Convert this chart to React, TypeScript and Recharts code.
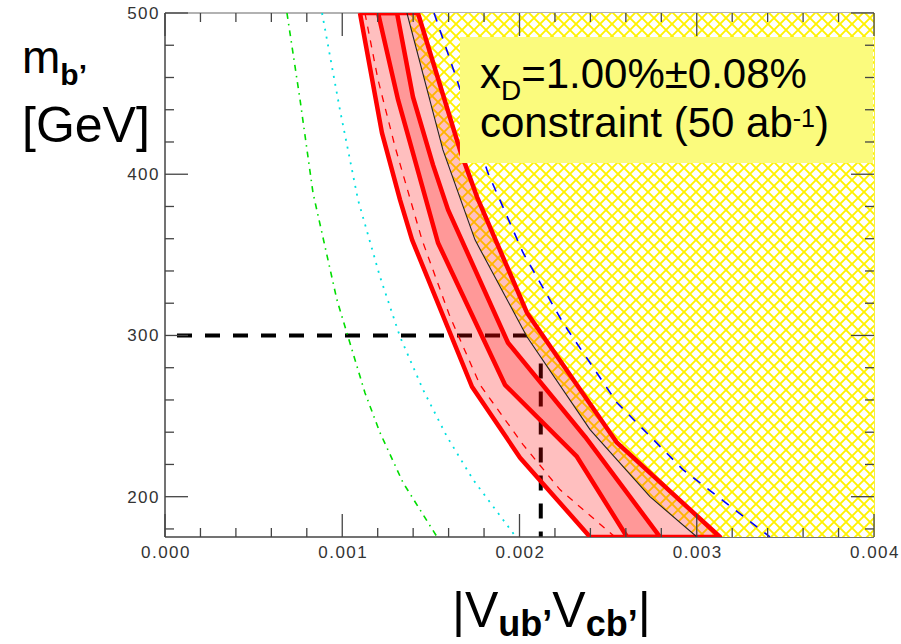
import React from 'react';
import { ComposedChart, Scatter, XAxis, YAxis, ReferenceLine } from 'recharts';

type Pair = [number, number]; // [|Vub'Vcb'|, m_b' in GeV]

// Allowed region from the x_D measurement: outer (light) and inner (dark) bands
const outerLeftEdge: Pair[] = [
  [0.0011, 500], [0.001224, 425.6], [0.001326, 384.1], [0.001394, 359.3],
  [0.001732, 268.2], [0.002003, 224.2], [0.002398, 175],
];
const innerLeftEdge: Pair[] = [
  [0.001202, 500], [0.001315, 446.1], [0.001394, 415.1], [0.00154, 357.5],
  [0.001918, 269.4], [0.002324, 224.8], [0.002607, 175],
];
const innerRightEdge: Pair[] = [
  [0.001309, 500], [0.001399, 447.9], [0.001512, 405.8], [0.001597, 377.9],
  [0.001935, 295.5], [0.00237, 237.2], [0.002793, 175],
];
const outerRightEdge: Pair[] = [
  [0.001427, 500], [0.001664, 415.1], [0.00176, 386.0], [0.002042, 314.1],
  [0.00255, 233.5], [0.003131, 175],
];

// Excluded (hatched) region starts at this boundary
const excludedBoundary: Pair[] = [
  [0.001365, 500], [0.001568, 415.1], [0.001749, 359.3], [0.002042, 299.2],
  [0.002398, 241.6], [0.002736, 200], [0.003001, 175],
];

// Contours
const centralContour: Pair[] = [
  [0.001128, 500], [0.001202, 458.5], [0.001298, 417.0], [0.00145, 359.3],
  [0.001608, 311.6], [0.001777, 269.4], [0.00202, 232.3], [0.002228, 204.4],
  [0.002539, 175],
];
const greenContour: Pair[] = [
  [0.000688, 500], [0.000762, 446.1], [0.000835, 388.4], [0.00097, 322.1],
  [0.001128, 264.5], [0.001213, 239.7], [0.001343, 208.7], [0.001535, 175],
];
const cyanContour: Pair[] = [
  [0.000886, 500], [0.000987, 439.9], [0.001089, 384.1], [0.001213, 336.4],
  [0.001326, 299.2], [0.001456, 266.3], [0.001591, 237.2], [0.001738, 210.6],
  [0.00198, 175],
];
const blueContour: Pair[] = [
  [0.001518, 500], [0.001653, 456.6], [0.001822, 400.8], [0.00202, 351.3],
  [0.002245, 307.9], [0.00255, 258.3], [0.002922, 216.8], [0.003413, 175],
];

// Benchmark point
const benchmarkMass = 300;
const benchmarkCoupling = 0.00212;

// Anchor (top-left corner) of the constraint note
const noteAnchor = [{ x: 0.001664, y: 485.1 }];

// Axes
const X_DOMAIN: Pair = [0, 0.004];
const Y_DOMAIN: Pair = [175, 500];
const xMajorTicks = [0, 0.001, 0.002, 0.003, 0.004];
const xMinorTicks = [
  0.0002, 0.0004, 0.0006, 0.0008, 0.0012, 0.0014, 0.0016, 0.0018,
  0.0022, 0.0024, 0.0026, 0.0028, 0.0032, 0.0034, 0.0036, 0.0038,
];
const yMajorTicks = [200, 300, 400, 500];
const yMinorTicks = [180, 220, 240, 260, 280, 320, 340, 360, 380, 420, 440, 460, 480];
const xTicks = [...xMajorTicks, ...xMinorTicks].sort((a, b) => a - b);
const yTicks = [...yMajorTicks, ...yMinorTicks].sort((a, b) => a - b);

const toPoints = (rows: Pair[]) => rows.map(([x, y]) => ({ x, y }));
const closedBand = (left: Pair[], right: Pair[]) =>
  toPoints([...left, ...[...right].reverse(), left[0]]);

const outerBand = closedBand(outerLeftEdge, outerRightEdge);
const innerBand = closedBand(innerLeftEdge, innerRightEdge);
const hatchRegion = toPoints([
  ...excludedBoundary,
  [X_DOMAIN[1], Y_DOMAIN[0]],
  [X_DOMAIN[1], Y_DOMAIN[1]],
  excludedBoundary[0],
]);

const SANS = '"Liberation Sans", Arial, Helvetica, sans-serif';
const AXIS = '#444';
const MAJOR = 23;
const MINOR = 9;
const tickText = { fontFamily: SANS, fontSize: 17, letterSpacing: 1.5, fill: '#333' };

const noDot = () => null;

function BottomTick(props: any) {
  const { x, y, payload } = props;
  const major = xMajorTicks.includes(payload.value);
  return (
    <g>
      <line x1={x} x2={x} y1={y} y2={y - (major ? MAJOR : MINOR)} stroke={AXIS} strokeWidth={1.3} />
      {major && (
        <text x={x + 1} y={y + 21} textAnchor="middle" {...tickText}>
          {payload.value.toFixed(3)}
        </text>
      )}
    </g>
  );
}

function TopTick(props: any) {
  const { x, y, payload } = props;
  const major = xMajorTicks.includes(payload.value);
  return <line x1={x} x2={x} y1={y} y2={y + (major ? MAJOR : MINOR)} stroke={AXIS} strokeWidth={1.3} />;
}

function LeftTick(props: any) {
  const { x, y, payload } = props;
  const major = yMajorTicks.includes(payload.value);
  return (
    <g>
      <line x1={x} x2={x + (major ? MAJOR : MINOR)} y1={y} y2={y} stroke={AXIS} strokeWidth={1.3} />
      {major && (
        <text x={x - 5} y={y + 6} textAnchor="end" {...tickText}>
          {payload.value}
        </text>
      )}
    </g>
  );
}

function RightTick(props: any) {
  const { x, y, payload } = props;
  const major = yMajorTicks.includes(payload.value);
  return <line x1={x} x2={x - (major ? MAJOR : MINOR)} y1={y} y2={y} stroke={AXIS} strokeWidth={1.3} />;
}

const yTitle = () => (
  <text fontFamily={SANS} fill="#000">
    <tspan x={22} y={73} fontSize={46}>m</tspan>
    <tspan dy={12} fontSize={30} fontWeight="bold">b’</tspan>
    <tspan x={22} y={142} fontSize={50}>[GeV]</tspan>
  </text>
);

const xTitle = () => (
  <text x={452} y={627} fontFamily={SANS} fontSize={50} fill="#000">
    |V
    <tspan dy={9} fontSize={36} fontWeight="bold">ub’</tspan>
    <tspan dy={-9}>V</tspan>
    <tspan dy={9} fontSize={36} fontWeight="bold">cb’</tspan>
    <tspan dy={-9}>|</tspan>
  </text>
);

// Yellow note box, drawn from its top-left anchor point
function ConstraintNote(props: any) {
  const { cx, cy } = props;
  return (
    <g fontFamily={SANS} fill="#000">
      <rect x={cx} y={cy} width={413} height={126} fill="#fbfb7d" />
      <text x={cx + 20} y={cy + 51} fontSize={42}>
        x<tspan dy={12} fontSize={28}>D</tspan>
        <tspan dy={-12}>=1.00%±0.08%</tspan>
      </text>
      <text x={cx + 20} y={cy + 100} fontSize={42}>
        constraint (50 ab<tspan dy={-10} fontSize={25}>-1</tspan>
        <tspan dy={10}>)</tspan>
      </text>
    </g>
  );
}

export default function App() {
  const axisCommon = {
    type: 'number' as const,
    allowDataOverflow: true,
    interval: 0 as const,
    tickSize: 0,
    tickMargin: 0,
    tickLine: false,
  };
  return (
    <div style={{ position: 'absolute', left: 0, top: 0 }}>
      <ComposedChart
        width={901}
        height={644}
        margin={{ top: 12, right: 26, bottom: 106, left: 164 }}
        style={{ background: '#fff' }}
      >
        <defs>
          <pattern id="xhatch" patternUnits="userSpaceOnUse" width={12} height={12}>
            <rect width={12} height={12} fill="#fff" />
            <path d="M0,0 L12,12 M12,0 L0,12" stroke="#fff200" strokeWidth={1.9} />
          </pattern>
        </defs>

        <XAxis
          {...axisCommon}
          xAxisId="x"
          dataKey="x"
          orientation="bottom"
          domain={X_DOMAIN}
          ticks={xTicks}
          height={1}
          axisLine={{ stroke: AXIS, strokeWidth: 1.5 }}
          tick={<BottomTick />}
          label={xTitle}
        />
        <XAxis
          {...axisCommon}
          xAxisId="xt"
          dataKey="x"
          orientation="top"
          domain={X_DOMAIN}
          ticks={xTicks}
          height={1}
          axisLine={{ stroke: '#666', strokeWidth: 1.2 }}
          tick={<TopTick />}
        />
        <YAxis
          {...axisCommon}
          yAxisId="y"
          dataKey="y"
          orientation="left"
          domain={Y_DOMAIN}
          ticks={yTicks}
          width={1}
          axisLine={{ stroke: AXIS, strokeWidth: 1.5 }}
          tick={<LeftTick />}
          label={yTitle}
        />
        <YAxis
          {...axisCommon}
          yAxisId="yr"
          dataKey="y"
          orientation="right"
          domain={Y_DOMAIN}
          ticks={yTicks}
          width={1}
          axisLine={{ stroke: '#f2e800', strokeWidth: 1.5 }}
          tick={<RightTick />}
        />

        {/* excluded region */}
        <Scatter
          xAxisId="x" yAxisId="y" data={hatchRegion} shape={noDot}
          line={{ stroke: 'none', fill: 'url(#xhatch)' }}
          isAnimationActive={false}
        />

        <Scatter
          xAxisId="x" yAxisId="y" data={toPoints(greenContour)} shape={noDot}
          line={{ stroke: '#00dd00', strokeWidth: 1.6, strokeDasharray: '6 5 1.5 5' }}
          isAnimationActive={false}
        />
        <Scatter
          xAxisId="x" yAxisId="y" data={toPoints(cyanContour)} shape={noDot}
          line={{ stroke: '#00e0e0', strokeWidth: 1.8, strokeDasharray: '2 6' }}
          isAnimationActive={false}
        />

        {/* allowed bands */}
        <Scatter
          xAxisId="x" yAxisId="y" data={outerBand} shape={noDot}
          line={{ stroke: '#ff0000', strokeWidth: 4.5, fill: 'rgba(255,0,0,0.25)', strokeLinejoin: 'round' }}
          isAnimationActive={false}
        />
        <Scatter
          xAxisId="x" yAxisId="y" data={innerBand} shape={noDot}
          line={{ stroke: '#ff0000', strokeWidth: 4.5, fill: 'rgba(255,0,0,0.2)', strokeLinejoin: 'round' }}
          isAnimationActive={false}
        />

        <Scatter
          xAxisId="x" yAxisId="y" data={toPoints(centralContour)} shape={noDot}
          line={{ stroke: '#ff0000', strokeWidth: 1.3, strokeDasharray: '7 7' }}
          isAnimationActive={false}
        />
        <Scatter
          xAxisId="x" yAxisId="y" data={toPoints(excludedBoundary)} shape={noDot}
          line={{ stroke: '#222', strokeWidth: 1.1 }}
          isAnimationActive={false}
        />
        <Scatter
          xAxisId="x" yAxisId="y" data={toPoints(blueContour)} shape={noDot}
          line={{ stroke: '#0000ff', strokeWidth: 1.6, strokeDasharray: '9 9' }}
          isAnimationActive={false}
        />

        {/* constraint note on top of the curves */}
        <Scatter
          xAxisId="x" yAxisId="y" data={noteAnchor} shape={<ConstraintNote />}
          isAnimationActive={false}
        />

        {/* benchmark guides */}
        <ReferenceLine
          xAxisId="x" yAxisId="y"
          segment={[{ x: X_DOMAIN[0], y: benchmarkMass }, { x: benchmarkCoupling, y: benchmarkMass }]}
          stroke="#000" strokeWidth={4} strokeDasharray="15 13" strokeDashoffset={16}
        />
        <ReferenceLine
          xAxisId="x" yAxisId="y"
          segment={[{ x: benchmarkCoupling, y: benchmarkMass }, { x: benchmarkCoupling, y: Y_DOMAIN[0] }]}
          stroke="#000" strokeWidth={4} strokeDasharray="15 13"
        />
      </ComposedChart>
    </div>
  );
}
